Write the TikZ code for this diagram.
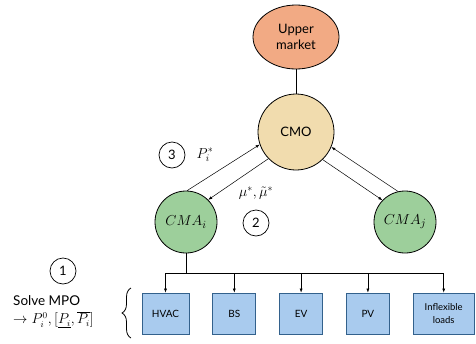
\documentclass[tikz,border=0pt]{standalone}
\usepackage{fontspec}
\setmainfont{Lato}
\usetikzlibrary{positioning, shapes.geometric, decorations.pathreplacing, arrows.meta}
\definecolor{marketorange}{HTML}{F2AA84}
\definecolor{cmotan}{HTML}{F1DCAE}
\definecolor{cmagreen}{HTML}{9DCF9B}
\definecolor{devblue}{HTML}{A9CBEE}
\definecolor{devborder}{HTML}{33618C}
\tikzset{
    market/.style={draw, ellipse, fill=marketorange, line width=0.8pt, minimum width=86pt, minimum height=64pt, inner sep=0pt, align=center, font=\fontsize{13}{16}\selectfont},
    operator/.style={draw, circle, fill=cmotan, line width=0.8pt, minimum size=76pt, inner sep=0pt, font=\fontsize{13}{16}\selectfont},
    aggregator/.style={draw, circle, fill=cmagreen, line width=0.8pt, minimum size=62pt, inner sep=0pt, font=\fontsize{15}{17}\selectfont},
    device/.style={draw=devborder, rectangle, fill=devblue, line width=0.8pt, minimum width=43pt, minimum height=41pt, inner sep=1pt, align=center, font=\fontsize{10}{12.5}\selectfont},
    stepnum/.style={draw, circle, line width=0.7pt, minimum size=26pt, inner sep=0pt, font=\fontsize{13}{15}\selectfont},
    msg/.style={inner sep=1pt, font=\fontsize{14}{16}\selectfont},
    flow/.style={-{Latex[length=4pt,width=3pt]}, line width=0.5pt},
    link/.style={line width=0.7pt} }

\begin{document}
\begin{tikzpicture}[x=1pt, y=-1pt]
    \useasboundingbox (0,0) rectangle (476,343);
    \node[market] (upper) at (296,37) {Upper\\market};
    \node[operator] (cmo) at (296,132) {CMO};
    \node[aggregator] (cmai) at (186,222) {$CMA_i$};
    \node[aggregator] (cmaj) at (405,222) {$CMA_j$};
    \node[device, minimum width=47pt] (hvac) at (165.5,313.5) {HVAC};
    \node[device, right = 23pt of hvac] (bs) {BS};
    \node[device, right = 23pt of bs] (ev) {EV};
    \node[device, right = 23pt of ev] (pv) {PV};
    \node[device, right = 23pt of pv, minimum width=61pt, font=\fontsize{9.5}{12.5}\selectfont] (loads) {Inflexible\\loads};
    % ----
    \node[stepnum] (three) at (172,155) {3};
    \node[msg] (pstar) at (205,155) {$P_i^*$};
    \node[msg] (mustar) at (256,193) {$\mu^*, \tilde{\mu}^*$};
    \node[stepnum] (two) at (256,223) {2};
    \node[stepnum] (one) at (63,271) {1};
    \node[msg, anchor=west, align=left, font=\fontsize{13.5}{18}\selectfont] (mpo) at (12,312)
        {Solve MPO\\$\rightarrow P_i^0, [\underline{P_i}, \overline{P_i}]$};
    % ----
    \draw[link] (upper) -- (cmo);

    \draw[flow] (cmai.88) -- (cmo.199);
    \draw[flow] (cmo.224) -- (cmai.45);
    \draw[flow] (cmaj.103) -- (cmo.337);
    \draw[flow] (cmo.314) -- (cmaj.136);

    \coordinate (bus) at (186,273);
    \draw[link] (cmai) -- (bus);
    \draw[link] (hvac.north |- bus) -- (loads.north |- bus);
    \foreach \dev in {hvac, bs, ev, pv, loads}
        \draw[flow] (\dev.north |- bus) -- (\dev.north);

    \coordinate (bracetop) at (131,288);
    \coordinate (bracebot) at (131,338);
    \draw[line width=0.8pt, decorate, decoration={brace, amplitude=9pt}] (bracebot) -- (bracetop);
\end{tikzpicture}
\end{document}
